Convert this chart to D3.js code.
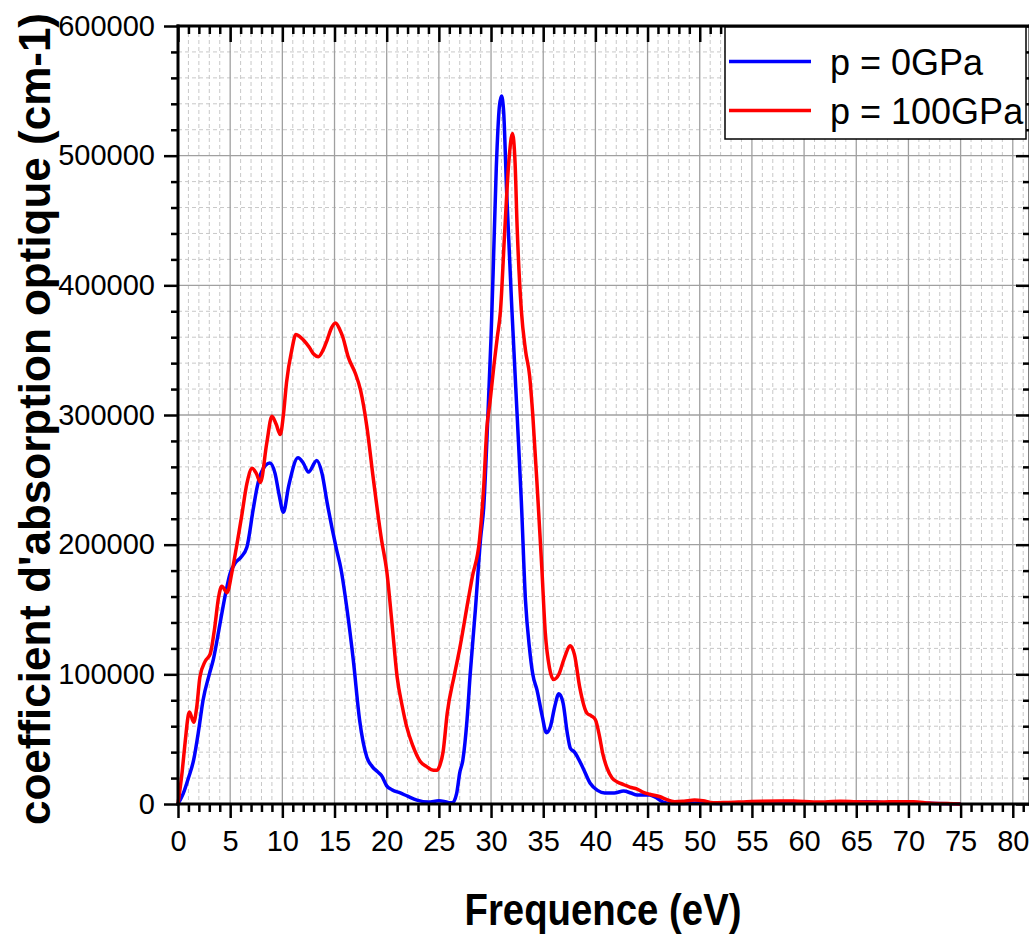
<!DOCTYPE html>
<html>
<head>
<meta charset="utf-8">
<script src="https://cdn.jsdelivr.net/npm/d3@7"></script>
<style>
  html, body { margin: 0; padding: 0; background: #fff; }
  svg { display: block; font-family: "Liberation Sans", Arial, sans-serif; }
</style>
</head>
<body>
<svg id="chart" width="1029" height="936"></svg>
<script>
// ---------- DATA ----------
const seriesNames = ["p = 0GPa", "p = 100GPa"];
const seriesColors = ["#0000ff", "#ff0000"];
const xTickValues = [0,5,10,15,20,25,30,35,40,45,50,55,60,65,70,75,80];
const yTickValues = [0,100000,200000,300000,400000,500000,600000];

const energy0 = [0,0.5,1.0,1.5,2.0,2.4,3.0,3.4,4.0,4.5,5.0,5.5,6.0,6.6,7.2,7.6,8.0,8.8,9.3,9.7,10.1,10.6,11.5,12.0,12.5,13.3,13.8,14.3,15.2,15.6,16.2,16.8,17.4,18.1,18.6,19.1,19.5,20.0,20.5,21.3,22.0,22.9,24.0,25.0,25.5,26.0,26.3,26.7,27.0,27.3,27.7,28.0,28.5,29.0,29.3,29.6,30.0,30.2,30.5,30.8,31.0,31.2,31.5,32.0,32.5,32.9,33.3,33.7,34.0,34.4,34.9,35.3,35.7,36.1,36.5,36.9,37.3,37.6,38.0,38.3,38.8,39.5,40.2,40.9,41.8,42.7,43.4,44.0,45.2,45.8,46.5,47.4,48.0,50.0,52.0,55.0,58.0,60.0,62.0,64.0,66.0,67.0,68.0,70.0,72.0,75.0];
const absorb0 = [0,8000,20000,34000,58000,80000,100000,112000,138000,160000,178000,186000,190000,198000,227000,245000,256000,263000,255000,238000,225000,245000,267000,263000,256000,265000,255000,232000,196000,182000,150000,111000,65000,36000,29000,25000,22000,14000,11000,8500,6000,3000,1500,2500,2000,1000,1000,8000,24000,34000,65000,100000,150000,205000,229000,280000,360000,410000,490000,538000,546000,535000,471000,381000,300000,234000,157000,119000,100000,88000,68000,55000,60000,75000,85000,78000,55000,43000,40000,36000,28000,16000,10500,8500,8500,10000,8500,7000,7000,5000,1500,400,300,800,400,1000,1200,800,500,1200,1800,1500,800,1200,500,0];

const energy100 = [0,0.4,0.7,1.0,1.1,1.5,1.8,2.1,2.6,3.1,3.5,3.9,4.2,4.7,5.15,5.6,6.1,6.6,7.1,7.5,7.9,8.5,9.0,9.4,9.8,10.1,10.4,10.9,11.3,11.6,12.0,12.6,13.0,13.45,13.9,14.3,14.7,15.1,15.5,15.8,16.3,17.0,17.5,18.1,18.7,19.5,20.0,20.5,21.0,21.5,21.9,22.5,23.2,23.8,24.5,24.8,25.1,25.4,25.8,26.5,27.0,27.8,28.2,28.9,29.3,29.6,29.9,30.3,30.6,30.9,31.3,31.7,32.05,32.3,32.5,32.9,33.3,33.7,34.0,34.5,34.86,35.2,35.6,36.0,36.5,37.0,37.6,38.0,38.5,39.2,39.6,40.0,40.4,40.7,41.1,41.6,42.1,42.7,43.3,44.0,44.6,45.2,46.2,46.8,47.6,48.5,49.5,50.3,51.3,52.5,54.5,56.0,57.7,59.0,60.9,62.0,63.5,65.0,67.3,69.0,70.5,72.0,73.7,75.0];
const absorb100 = [0,25000,49000,69000,71000,63000,75000,98000,110000,116000,135000,160000,168000,163000,178000,198000,222000,247000,259000,255000,248000,278000,299000,293000,285000,300000,325000,350000,362000,361000,358000,352000,347000,345000,350000,358000,367000,371000,366000,360000,345000,332000,319000,291000,252000,204000,180000,140000,98000,75000,60000,45000,33000,29000,26000,26000,30000,40000,70000,100000,120000,157000,175000,204000,245000,290000,310000,340000,360000,380000,440000,495000,517000,495000,445000,381000,350000,330000,300000,234000,183000,132000,105000,96000,100000,112000,122000,115000,90000,70000,68000,65000,52000,39000,28000,20000,17000,15000,13000,11500,9000,7500,5600,3500,1800,2200,3000,2500,1000,1200,1800,2200,2400,2300,1600,1500,2200,1800,1500,1800,1800,800,300,0];

const xLabel = "Frequence (eV)";
const yLabel = "coefficient d'absorption optique (cm-1)";

(function () {
// ---------- LAYOUT ----------
const svg = d3.select("#chart");
const pL = 178, pR = 1030, pT = 26, pB = 804;
const x = d3.scaleLinear().domain([0, 81.65]).range([pL, pR]);
const y = d3.scaleLinear().domain([0, 600000]).range([pB, pT]);

const xMinor = d3.range(0, 82, 1).filter(v => v % 5 !== 0);
const yMinor = d3.range(0, 600001, 20000).filter(v => v % 100000 !== 0);

// grid
const grid = svg.append("g");
grid.selectAll("line.xmin").data(xMinor).join("line")
  .attr("x1", d => x(d)).attr("x2", d => x(d)).attr("y1", pT).attr("y2", pB)
  .attr("stroke", "#c8c8c8").attr("stroke-width", 1).attr("stroke-dasharray", "4,3");
grid.selectAll("line.ymin").data(yMinor).join("line")
  .attr("y1", d => y(d)).attr("y2", d => y(d)).attr("x1", pL).attr("x2", pR)
  .attr("stroke", "#c8c8c8").attr("stroke-width", 1).attr("stroke-dasharray", "4,3");
grid.selectAll("line.xmaj").data(xTickValues.filter(v => v > 0)).join("line")
  .attr("x1", d => x(d)).attr("x2", d => x(d)).attr("y1", pT).attr("y2", pB)
  .attr("stroke", "#a0a0a0").attr("stroke-width", 1.3);
grid.selectAll("line.ymaj").data(yTickValues.filter(v => v > 0)).join("line")
  .attr("y1", d => y(d)).attr("y2", d => y(d)).attr("x1", pL).attr("x2", pR)
  .attr("stroke", "#a0a0a0").attr("stroke-width", 1.3);

// curves
const line = d3.line().curve(d3.curveMonotoneX);
const series = [
  energy0.map((e, i) => [x(e), y(absorb0[i])]),
  energy100.map((e, i) => [x(e), y(absorb100[i])])
];
svg.append("g").selectAll("path").data(series).join("path")
  .attr("d", d => line(d))
  .attr("fill", "none")
  .attr("stroke", (d, i) => seriesColors[i])
  .attr("stroke-width", 3.5)
  .attr("stroke-linejoin", "round");

// axes
function styleAxis(g) {
  g.select(".domain").remove();
  g.selectAll(".tick line").attr("stroke", "#000").attr("stroke-width", 2.5);
  g.selectAll(".tick text").attr("fill", "#000").attr("font-size", 29)
    .attr("font-family", "'Liberation Sans', Arial, sans-serif");
}
svg.append("g").attr("transform", `translate(0,${pB})`)
  .call(d3.axisBottom(x).tickValues(xMinor).tickSize(8).tickFormat(""))
  .call(styleAxis);
svg.append("g").attr("transform", `translate(0,${pB})`)
  .call(d3.axisBottom(x).tickValues(xTickValues).tickSize(14).tickPadding(12).tickFormat(d3.format("d")))
  .call(styleAxis);
svg.append("g").attr("transform", `translate(0,${pT})`)
  .call(d3.axisBottom(x).tickValues(xMinor).tickSize(8).tickFormat(""))
  .call(styleAxis);
svg.append("g").attr("transform", `translate(0,${pT})`)
  .call(d3.axisBottom(x).tickValues(xTickValues).tickSize(16).tickFormat(""))
  .call(styleAxis);
svg.append("g").attr("transform", `translate(${pL},0)`)
  .call(d3.axisLeft(y).tickValues(yMinor).tickSize(7).tickFormat(""))
  .call(styleAxis);
svg.append("g").attr("transform", `translate(${pL},0)`)
  .call(d3.axisLeft(y).tickValues(yTickValues).tickSize(14).tickPadding(9).tickFormat(d3.format("d")))
  .call(styleAxis);
svg.append("g").attr("transform", `translate(${pR},0)`)
  .call(d3.axisLeft(y).tickValues(yMinor).tickSize(7).tickFormat(""))
  .call(styleAxis);
svg.append("g").attr("transform", `translate(${pR},0)`)
  .call(d3.axisLeft(y).tickValues(yTickValues).tickSize(14).tickFormat(""))
  .call(styleAxis);

// frame lines
const frame = svg.append("g").attr("stroke", "#000").attr("stroke-width", 3).attr("stroke-linecap", "square");
frame.append("line").attr("x1", pL).attr("x2", pR).attr("y1", pB).attr("y2", pB);
frame.append("line").attr("x1", pL).attr("x2", pR).attr("y1", pT).attr("y2", pT);
frame.append("line").attr("x1", pL).attr("x2", pL).attr("y1", pT).attr("y2", pB);
frame.append("line").attr("x1", pR).attr("x2", pR).attr("y1", pT).attr("y2", pB);

// legend
const lg = svg.append("g");
lg.append("rect").attr("x", 725).attr("y", 27).attr("width", 301).attr("height", 112)
  .attr("fill", "#fff").attr("stroke", "#000").attr("stroke-width", 1.5);
const legY = [61.5, 110.5];
seriesNames.forEach((name, i) => {
  lg.append("line").attr("x1", 729).attr("x2", 811).attr("y1", legY[i]).attr("y2", legY[i])
    .attr("stroke", seriesColors[i]).attr("stroke-width", 3.5);
  lg.append("text").attr("x", 830).attr("y", legY[i] + 13).attr("font-size", 36)
    .attr("fill", "#000").text(name);
});

// axis titles
svg.append("text").attr("x", 603).attr("y", 925).attr("text-anchor", "middle")
  .attr("font-size", 44).attr("font-weight", "bold")
  .attr("textLength", 277).attr("lengthAdjust", "spacingAndGlyphs")
  .text(xLabel);
svg.append("text").attr("transform", "translate(50,419) rotate(-90)").attr("text-anchor", "middle")
  .attr("font-size", 44).attr("font-weight", "bold")
  .attr("textLength", 812).attr("lengthAdjust", "spacingAndGlyphs")
  .text(yLabel);
})();
</script>
</body>
</html>
